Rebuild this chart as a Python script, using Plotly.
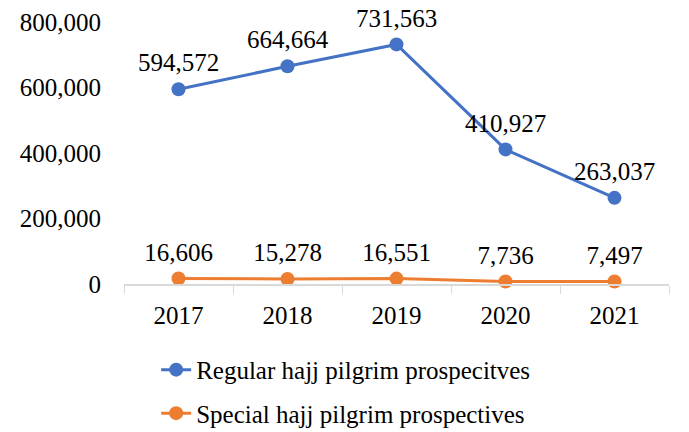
import plotly.graph_objects as go

years = ["2017", "2018", "2019", "2020", "2021"]
regular = [594572, 664664, 731563, 410927, 263037]
special = [16606, 15278, 16551, 7736, 7497]
y_ticks = [0, 200000, 400000, 600000, 800000]
y_tick_labels = ["0", "200,000", "400,000", "600,000", "800,000"]

FONT = "Liberation Serif"
BLUE = "#4472C4"
ORANGE = "#ED7D31"

fig = go.Figure()
for name, vals, col in [
    ("Regular hajj pilgrim prospecitves", regular, BLUE),
    ("Special hajj pilgrim prospectives", special, ORANGE),
]:
    fig.add_trace(go.Scatter(
        x=years, y=vals, name=name, legendgroup=name,
        mode="lines+markers",
        line=dict(color=col, width=3),
        marker=dict(color=col, size=14),
        cliponaxis=False,
        hoverinfo="skip",
    ))
for vals in (regular, special):
    fig.add_trace(go.Scatter(
        x=years, y=vals, mode="markers+text", showlegend=False,
        text=[f"{v:,}" for v in vals],
        textposition="top center",
        textfont=dict(family=FONT, size=25, color="#000000"),
        marker=dict(color="rgba(0,0,0,0)", size=17),
        cliponaxis=False, hoverinfo="skip",
    ))

fig.update_layout(
    width=689, height=432,
    margin=dict(l=124, r=20, t=22, b=148, autoexpand=False),
    paper_bgcolor="white", plot_bgcolor="white",
    font=dict(family=FONT, size=25, color="#000000"),
    showlegend=True,
    legend=dict(
        orientation="v", x=0.059, xanchor="left", y=-0.24, yanchor="top",
        font=dict(family=FONT, size=25, color="#000000"),
        bgcolor="rgba(0,0,0,0)", tracegroupgap=8,
    ),
    xaxis=dict(
        type="category", range=[-0.5, 4.5],
        showline=True, linecolor="#D9D9D9", linewidth=1.5,
        ticks="outside", tickson="boundaries", ticklen=8, tickcolor="#D9D9D9",
        showgrid=False, zeroline=False, ticklabelstandoff=8, automargin=False,
        tickfont=dict(family=FONT, size=25),
    ),
    yaxis=dict(
        range=[0, 800000], tickvals=y_ticks, ticktext=y_tick_labels,
        showgrid=False, zeroline=False, showline=False, automargin=False,
        ticklabelstandoff=22, tickfont=dict(family=FONT, size=25),
    ),
)

fig.write_html(
    "out.html",
    config={"displayModeBar": False, "staticPlot": True},
    post_script="document.body.style.margin='0';document.body.style.overflow='hidden';",
)
